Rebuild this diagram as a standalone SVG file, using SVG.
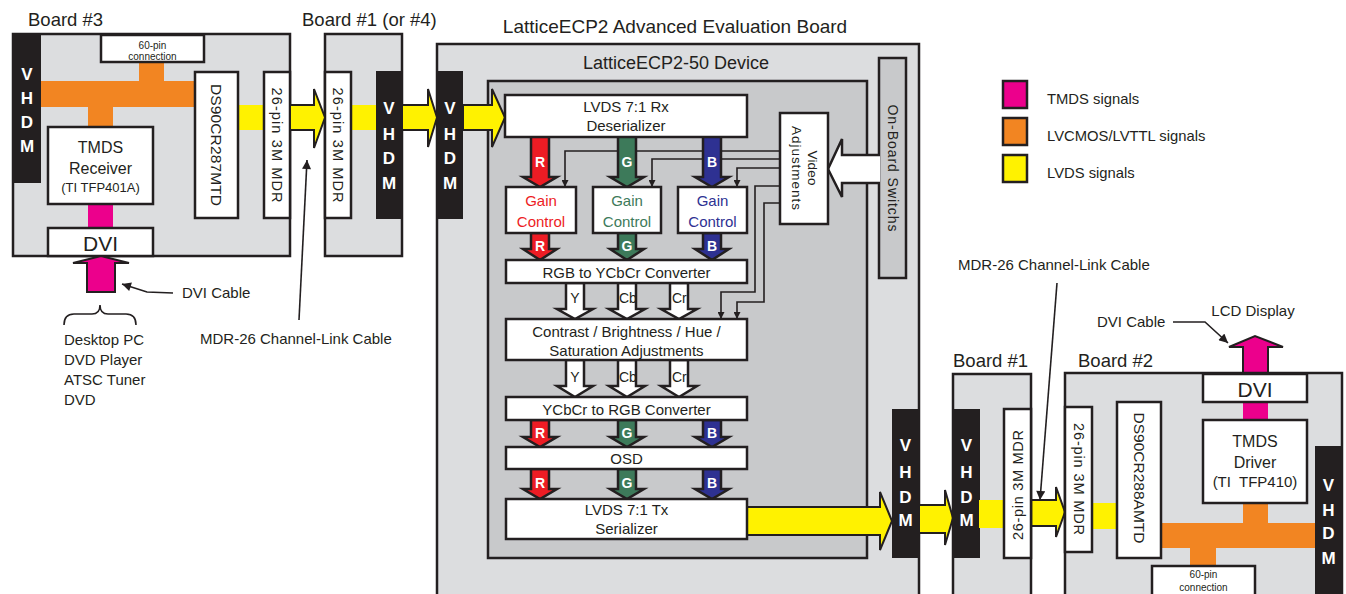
<svg xmlns="http://www.w3.org/2000/svg" width="1346" height="594" viewBox="0 0 1346 594">
<style>
text{font-family:"Liberation Sans",Arial,sans-serif;fill:#231f20}
.brd{fill:#dcdddf;stroke:#231f20;stroke-width:2.5}
.dev{fill:#c8c9cb;stroke:#231f20;stroke-width:2.5}
.box{fill:#fff;stroke:#231f20;stroke-width:2.5}
.vh{fill:#231f20}
.vt{fill:#fff;font-weight:bold;font-size:17px;text-anchor:middle;dominant-baseline:central}
.yl{fill:#fff200;stroke:#231f20;stroke-width:2}
.yf{fill:#fff200}
.or{fill:#f28522}
.mg{fill:#ec008c}
.mgs{fill:#ec008c;stroke:#231f20;stroke-width:2}
.ar{stroke:#231f20;stroke-width:2.5}
.r{fill:#ed1c24}.g{fill:#3d7a5a}.b{fill:#2e3192}.w{fill:#fff}
.al{fill:#fff;font-weight:bold;font-size:14px;text-anchor:middle;dominant-baseline:central}
.c{text-anchor:middle;dominant-baseline:central}
.ln{fill:none;stroke:#231f20;stroke-width:1.6}
.lg{stroke:#231f20;stroke-width:2.5}
</style>
<defs>
<marker id="ah" viewBox="0 0 10 10" refX="10" refY="5" markerWidth="10" markerHeight="7" orient="auto" markerUnits="userSpaceOnUse">
<path d="M0,0 L10,5 L0,10 Z" fill="#231f20"/>
</marker>
<marker id="ah2" viewBox="0 0 10 10" refX="10" refY="5" markerWidth="12" markerHeight="9" orient="auto" markerUnits="userSpaceOnUse">
<path d="M0,0 L10,5 L0,10 Z" fill="#231f20"/>
</marker>
<clipPath id="cb1"><rect x="618" y="283" width="18" height="30"/></clipPath>
<clipPath id="cr1"><rect x="670" y="283" width="18" height="30"/></clipPath>
<clipPath id="cb2"><rect x="618" y="360" width="18" height="30"/></clipPath>
<clipPath id="cr2"><rect x="670" y="360" width="18" height="30"/></clipPath>
</defs>

<!-- Titles -->
<text x="28" y="26" font-size="18.5">Board #3</text>
<text x="302" y="26" font-size="18.5">Board #1 (or #4)</text>
<text x="675" y="33" font-size="19" text-anchor="middle">LatticeECP2 Advanced Evaluation Board</text>
<text x="953" y="367" font-size="18.5">Board #1</text>
<text x="1078" y="367" font-size="18.5">Board #2</text>

<!-- Board #3 -->
<g id="board3">
<rect class="brd" x="13" y="34" width="277" height="222"/>
<rect class="vh" x="13" y="34" width="28" height="149"/>
<text class="vt" x="27" y="74">V</text><text class="vt" x="27" y="98">H</text><text class="vt" x="27" y="122">D</text><text class="vt" x="27" y="146">M</text>
<rect class="or" x="41" y="81" width="155" height="26"/>
<rect class="or" x="139" y="61" width="25" height="21"/>
<rect class="or" x="88" y="106" width="25" height="22"/>
<rect class="mg" x="88" y="203" width="25" height="26"/>
<rect class="yf" x="237" y="105" width="28" height="25"/>
<rect class="box" x="101" y="35" width="103" height="27"/>
<text x="152.5" y="45" font-size="10" class="c">60-pin</text>
<text x="152.5" y="56" font-size="10" class="c">connection</text>
<rect class="box" x="48" y="127" width="105" height="77"/>
<text x="100.5" y="147" font-size="16" class="c">TMDS</text>
<text x="100.5" y="168" font-size="16" class="c">Receiver</text>
<text x="100.5" y="187" font-size="13" class="c">(TI TFP401A)</text>
<rect class="box" x="48" y="228" width="105" height="28"/>
<text x="100.5" y="243" font-size="21" class="c">DVI</text>
<rect class="box" x="195" y="72" width="43" height="146"/>
<text x="216.5" y="145" font-size="15.5" class="c" transform="rotate(90 216.5 145)" textLength="122" lengthAdjust="spacing">DS90CR287MTD</text>
<rect class="box" x="264" y="72" width="26" height="146"/>
<text x="277" y="145" font-size="14.5" class="c" transform="rotate(90 277 145)" textLength="115" lengthAdjust="spacing">26-pin 3M MDR</text>
</g>

<!-- Board #1 (or #4) -->
<g id="board1a">
<rect class="brd" x="325" y="34" width="77" height="222"/>
<rect class="yf" x="350" y="105" width="27" height="25"/>
<rect class="box" x="325" y="72" width="26" height="146"/>
<text x="338" y="145" font-size="14.5" class="c" transform="rotate(90 338 145)" textLength="115" lengthAdjust="spacing">26-pin 3M MDR</text>
<rect class="vh" x="376" y="71" width="26" height="148"/>
<text class="vt" x="389" y="108">V</text><text class="vt" x="389" y="134">H</text><text class="vt" x="389" y="158">D</text><text class="vt" x="389" y="183">M</text>
</g>

<!-- Lattice board -->
<g id="lattice">
<rect class="brd" x="437" y="44" width="482" height="560"/>
<rect class="vh" x="437" y="71" width="26" height="148"/>
<text class="vt" x="450" y="108">V</text><text class="vt" x="450" y="134">H</text><text class="vt" x="450" y="158">D</text><text class="vt" x="450" y="183">M</text>
<rect class="dev" x="488" y="81" width="379" height="477"/>
<text x="676" y="69" font-size="18" text-anchor="middle">LatticeECP2-50 Device</text>
<rect class="dev" x="879" y="58" width="27" height="220"/>
<text x="892.5" y="168" font-size="14" class="c" transform="rotate(90 892.5 168)" textLength="127" lengthAdjust="spacing">On-Board Switchs</text>
<rect class="vh" x="892" y="409" width="27" height="149"/>
<text class="vt" x="905.5" y="445">V</text><text class="vt" x="905.5" y="472">H</text><text class="vt" x="905.5" y="497">D</text><text class="vt" x="905.5" y="520">M</text>
</g>

<!-- Connectors -->
<g id="connectors">
<path class="ln" d="M780,151 H565 V187" marker-end="url(#ah)"/>
<path class="ln" d="M780,159 H652 V187" marker-end="url(#ah)"/>
<path class="ln" d="M780,168 H737 V187" marker-end="url(#ah)"/>
<path class="ln" d="M780,186 H755 V292 H721 V319" marker-end="url(#ah)"/>
<path class="ln" d="M780,203 H764 V302 H737 V319" marker-end="url(#ah)"/>
<!-- RGB arrows -->
<path class="ar r" d="M531,136 V177 H523 L540,187 L557,177 H549 V136 Z"/>
<path class="ar g" d="M618,136 V177 H610 L627,187 L644,177 H636 V136 Z"/>
<path class="ar b" d="M703,136 V177 H695 L712,187 L729,177 H721 V136 Z"/>
<text class="al" x="540" y="162">R</text><text class="al" x="627" y="162">G</text><text class="al" x="712" y="162">B</text>
<path class="ar r" d="M531,233 V249 H523 L540,260 L557,249 H549 V233 Z"/>
<path class="ar g" d="M618,233 V249 H610 L627,260 L644,249 H636 V233 Z"/>
<path class="ar b" d="M703,233 V249 H695 L712,260 L729,249 H721 V233 Z"/>
<text class="al" x="540" y="246">R</text><text class="al" x="627" y="246">G</text><text class="al" x="712" y="246">B</text>
<path class="ar w" d="M566,283 V309 H557 L575,319 L593,309 H584 V283 Z"/>
<path class="ar w" d="M618,283 V309 H609 L627,319 L645,309 H636 V283 Z"/>
<path class="ar w" d="M670,283 V309 H661 L679,319 L697,309 H688 V283 Z"/>
<text x="575" y="298" font-size="14" class="c">Y</text>
<text x="619" y="298" font-size="14" dominant-baseline="central" clip-path="url(#cb1)">Cb</text>
<text x="672" y="298" font-size="14" dominant-baseline="central" clip-path="url(#cr1)">Cr</text>
<path class="ar w" d="M566,360 V386 H557 L575,397 L593,386 H584 V360 Z"/>
<path class="ar w" d="M618,360 V386 H609 L627,397 L645,386 H636 V360 Z"/>
<path class="ar w" d="M670,360 V386 H661 L679,397 L697,386 H688 V360 Z"/>
<text x="575" y="377" font-size="14" class="c">Y</text>
<text x="619" y="377" font-size="14" dominant-baseline="central" clip-path="url(#cb2)">Cb</text>
<text x="672" y="377" font-size="14" dominant-baseline="central" clip-path="url(#cr2)">Cr</text>
<path class="ar r" d="M531,420 V437 H523 L540,447 L557,437 H549 V420 Z"/>
<path class="ar g" d="M618,420 V437 H610 L627,447 L644,437 H636 V420 Z"/>
<path class="ar b" d="M703,420 V437 H695 L712,447 L729,437 H721 V420 Z"/>
<text class="al" x="540" y="433">R</text><text class="al" x="627" y="433">G</text><text class="al" x="712" y="433">B</text>
<path class="ar r" d="M531,469 V489 H523 L540,499 L557,489 H549 V469 Z"/>
<path class="ar g" d="M618,469 V489 H610 L627,499 L644,489 H636 V469 Z"/>
<path class="ar b" d="M703,469 V489 H695 L712,499 L729,489 H721 V469 Z"/>
<text class="al" x="540" y="483">R</text><text class="al" x="627" y="483">G</text><text class="al" x="712" y="483">B</text>
<!-- switch arrow -->
<path class="ar w" d="M880,155 H842 V139 L828,169 L842,197 V183 H880"/>
<!-- yellow arrows -->
<path class="yl" d="M290,105 H314 V89 L325,117.5 L314,148 V130 H290 Z"/>
<path class="yl" d="M402,105 H428 V89 L437,117.5 L428,147 V130 H402 Z"/>
<path class="yl" d="M463,105 H492 V89 L505,117.5 L492,147 V130 H463 Z"/>
<path class="yl" d="M747,507 H880 V492 L892,521 L880,550 V535 H747 Z"/>
<path class="yl" d="M919,505 H945 V490 L953,518 L945,545 V533 H919 Z"/>
<path class="yl" d="M1031,500 H1056 V487 L1065,512 L1056,537 V526 H1031 Z"/>
<!-- magenta arrows -->
<path class="mgs" d="M87,292 V263 H73 L101,256 L129,263 H115 V292 Z"/>
<path class="mgs" d="M1243,374 V347 H1229 L1255,336 L1283,347 H1268 V374 Z"/>
<!-- pointers -->
<path class="ln" d="M173,293 L147,292 L122,284" marker-end="url(#ah2)"/>
<path class="ln" d="M299,320 L307,160" marker-end="url(#ah2)"/>
<path class="ln" d="M1057,283 L1040,500" marker-end="url(#ah2)"/>
<path class="ln" d="M1173,322 H1205 L1228,343" marker-end="url(#ah2)"/>
<path class="ln" d="M64,325 Q64,314 74,314 H92 Q100,314 100,305 Q100,314 108,314 H126 Q136,314 136,325"/>
</g>

<!-- Device blocks -->
<g id="rx"><rect class="box" x="505" y="95" width="242" height="42"/>
<text x="626" y="106" font-size="15" class="c">LVDS 7:1 Rx</text><text x="626" y="125" font-size="15" class="c">Deserializer</text></g>
<g id="gainR"><rect class="box" x="506" y="187" width="70" height="46"/>
<text x="541" y="200" font-size="15" class="c" style="fill:#ed1c24">Gain</text><text x="541" y="221" font-size="15" class="c" style="fill:#ed1c24">Control</text></g>
<g id="gainG"><rect class="box" x="593" y="187" width="68" height="46"/>
<text x="627" y="200" font-size="15" class="c" style="fill:#3d7a5a">Gain</text><text x="627" y="221" font-size="15" class="c" style="fill:#3d7a5a">Control</text></g>
<g id="gainB"><rect class="box" x="678" y="187" width="69" height="46"/>
<text x="712.5" y="200" font-size="15" class="c" style="fill:#2e3192">Gain</text><text x="712.5" y="221" font-size="15" class="c" style="fill:#2e3192">Control</text></g>
<g id="rgb2ycc"><rect class="box" x="506" y="260" width="241" height="23"/>
<text x="626.5" y="272" font-size="15" class="c">RGB to YCbCr Converter</text></g>
<g id="contrast"><rect class="box" x="506" y="319" width="241" height="41"/>
<text x="626.5" y="331" font-size="15" class="c">Contrast / Brightness / Hue /</text><text x="626.5" y="350" font-size="15" class="c">Saturation Adjustments</text></g>
<g id="ycc2rgb"><rect class="box" x="506" y="397" width="241" height="23"/>
<text x="626.5" y="409" font-size="15" class="c">YCbCr to RGB Converter</text></g>
<g id="osd"><rect class="box" x="506" y="447" width="241" height="22"/>
<text x="626.5" y="458" font-size="15" class="c">OSD</text></g>
<g id="tx"><rect class="box" x="506" y="499" width="241" height="40"/>
<text x="626.5" y="509" font-size="15" class="c">LVDS 7:1 Tx</text><text x="626.5" y="528" font-size="15" class="c">Serializer</text></g>
<g id="video"><rect class="box" x="780" y="113" width="48" height="111"/>
<text x="804" y="160" font-size="13.5" class="c" transform="rotate(90 804 168)" textLength="35" lengthAdjust="spacing">Video</text>
<text x="804" y="176" font-size="13.5" class="c" transform="rotate(90 804 168)" textLength="84" lengthAdjust="spacing">Adjustments</text></g>

<!-- Board #1 right -->
<g id="board1b">
<rect class="brd" x="953" y="374" width="78" height="230"/>
<rect class="vh" x="953" y="409" width="27" height="149"/>
<text class="vt" x="966.5" y="445">V</text><text class="vt" x="966.5" y="472">H</text><text class="vt" x="966.5" y="497">D</text><text class="vt" x="966.5" y="520">M</text>
<rect class="yf" x="979" y="500" width="26" height="28"/>
<rect class="box" x="1004" y="409" width="27" height="149"/>
<text x="1017.5" y="485" font-size="14.5" class="c" transform="rotate(-90 1017.5 485)" textLength="110" lengthAdjust="spacing">26-pin 3M MDR</text>
</g>

<!-- Board #2 -->
<g id="board2">
<rect class="brd" x="1065" y="373" width="277" height="231"/>
<rect class="yf" x="1091" y="503" width="28" height="26"/>
<rect class="or" x="1160" y="523" width="156" height="25"/>
<rect class="or" x="1243" y="502" width="25" height="22"/>
<rect class="or" x="1190" y="547" width="26" height="20"/>
<rect class="mg" x="1243" y="401" width="25" height="20"/>
<rect class="box" x="1065" y="407" width="27" height="145"/>
<text x="1078.5" y="479" font-size="14.5" class="c" transform="rotate(90 1078.5 479)" textLength="112" lengthAdjust="spacing">26-pin 3M MDR</text>
<rect class="box" x="1117" y="402" width="44" height="156"/>
<text x="1139" y="478" font-size="15.5" class="c" transform="rotate(90 1139 478)" textLength="131" lengthAdjust="spacing">DS90CR288AMTD</text>
<rect class="box" x="1152" y="566" width="103" height="40"/>
<text x="1203.5" y="574" font-size="10" class="c">60-pin</text>
<text x="1203.5" y="587" font-size="10" class="c">connection</text>
<rect class="box" x="1203" y="420" width="104" height="83"/>
<text x="1255" y="441" font-size="16" class="c">TMDS</text>
<text x="1255" y="462" font-size="16" class="c">Driver</text>
<text x="1255" y="481" font-size="15" class="c" xml:space="preserve">(TI  TFP410)</text>
<rect class="box" x="1203" y="374" width="104" height="28"/>
<text x="1255" y="389" font-size="21" class="c">DVI</text>
<rect class="vh" x="1315" y="446" width="27" height="160"/>
<text class="vt" x="1328.5" y="485">V</text><text class="vt" x="1328.5" y="510">H</text><text class="vt" x="1328.5" y="533">D</text><text class="vt" x="1328.5" y="558">M</text>
</g>

<!-- Legend -->
<g id="legend">
<rect class="mg lg" x="1003" y="81" width="24" height="27"/>
<rect class="or lg" x="1003" y="118" width="24" height="27"/>
<rect class="yf lg" x="1003" y="155" width="24" height="27"/>
<text x="1047" y="104" font-size="14.8">TMDS signals</text>
<text x="1047" y="141" font-size="14.8">LVCMOS/LVTTL signals</text>
<text x="1047" y="178" font-size="14.8">LVDS signals</text>
</g>

<!-- Labels -->
<g id="labels">
<text x="182" y="298" font-size="15">DVI Cable</text>
<text x="64" y="345" font-size="15">Desktop PC</text>
<text x="64" y="365" font-size="15">DVD Player</text>
<text x="64" y="385" font-size="15">ATSC Tuner</text>
<text x="64" y="405" font-size="15">DVD</text>
<text x="200" y="344" font-size="15">MDR-26 Channel-Link Cable</text>
<text x="958" y="270" font-size="15">MDR-26 Channel-Link Cable</text>
<text x="1253" y="316" font-size="15" text-anchor="middle">LCD Display</text>
<text x="1097" y="327" font-size="15">DVI Cable</text>
</g>
</svg>
